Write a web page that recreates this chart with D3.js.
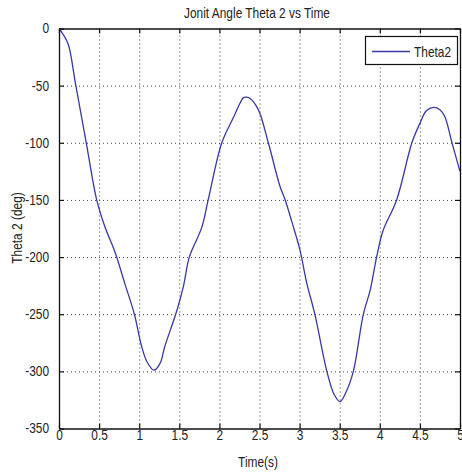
<!DOCTYPE html>
<html>
<head>
<meta charset="utf-8">
<script src="https://cdn.jsdelivr.net/npm/d3@7"></script>
<style>
  html, body { margin: 0; padding: 0; background: #fff; }
  svg { display: block; }
  text { font-family: "Liberation Sans", Arial, sans-serif; fill: #222; }
</style>
</head>
<body>
<div id="chart"></div>
<script>
// ---- data ----
const timeS = [0, 0.05, 0.116, 0.21, 0.34, 0.47, 0.57, 0.70, 0.82, 0.94, 1.03, 1.10, 1.185, 1.26, 1.32, 1.455, 1.55, 1.625, 1.78, 1.86, 2.03, 2.17, 2.26, 2.30, 2.34, 2.38, 2.485, 2.61, 2.755, 2.82, 2.92, 3.005, 3.09, 3.19, 3.34, 3.43, 3.504, 3.58, 3.67, 3.795, 3.88, 3.96, 4.04, 4.21, 4.40, 4.50, 4.58, 4.67, 4.75, 4.81, 4.90, 5.0];
const theta2 = [0, -5, -14, -50, -100, -150, -173, -196, -223, -250, -278, -292, -299, -293, -278, -250, -226, -200, -174, -150, -100, -78.6, -65, -60.5, -60, -61, -71, -100, -138, -150, -173, -194, -223, -250, -300, -320, -326.5, -318, -300, -250, -229, -200, -177, -150, -100, -83, -72, -69, -71, -77, -100, -125];
const xTicks = [0, 0.5, 1, 1.5, 2, 2.5, 3, 3.5, 4, 4.5, 5];
const xTickLabels = ["0", "0.5", "1", "1.5", "2", "2.5", "3", "3.5", "4", "4.5", "5"];
const yTicks = [0, -50, -100, -150, -200, -250, -300, -350];
const yTickLabels = ["0", "-50", "-100", "-150", "-200", "-250", "-300", "-350"];
const titleText = "Jonit Angle Theta 2 vs Time";
const xLabel = "Time(s)";
const yLabel = "Theta 2 (deg)";
const seriesName = "Theta2";

// ---- layout ----
const W = 462, H = 473;
const L = 59, R = 460, T = 28.5, B = 428.5;
const SX = 0.85; // horizontal squeeze of the reference text
const lineColor = "#3838a8";

const svg = d3.select("#chart").append("svg").attr("width", W).attr("height", H);

const x = d3.scaleLinear().domain([0, 5]).range([L, R]);
const y = d3.scaleLinear().domain([-350, 0]).range([B, T]);

// grid
const grid = svg.append("g");
grid.append("g").attr("transform", `translate(0,${B})`)
  .call(d3.axisBottom(x).tickValues(xTicks.slice(1, -1)).tickSize(-(B - T)).tickFormat(""))
  .call(g => g.select(".domain").remove())
  .call(g => g.selectAll("line").attr("stroke", "#444").attr("stroke-dasharray", "1,3").attr("stroke-width", 1));
grid.append("g").attr("transform", `translate(${L},0)`)
  .call(d3.axisLeft(y).tickValues(yTicks.slice(1, -1)).tickSize(-(R - L)).tickFormat(""))
  .call(g => g.select(".domain").remove())
  .call(g => g.selectAll("line").attr("stroke", "#444").attr("stroke-dasharray", "1,3").attr("stroke-width", 1));

// line
const pts = timeS.map((t, i) => [t, theta2[i]]);
svg.append("path")
  .datum(pts)
  .attr("fill", "none")
  .attr("stroke", lineColor)
  .attr("stroke-width", 1.3)
  .attr("d", d3.line().x(d => x(d[0])).y(d => y(d[1])).curve(d3.curveCatmullRom.alpha(0.5)));

// axes (MATLAB-like inward ticks on all sides)
function squeezeText(g) {
  g.selectAll("text").each(function () {
    const t = d3.select(this);
    const xv = +t.attr("x") || 0;
    t.attr("x", xv / SX).attr("transform", `scale(${SX},1)`);
  });
}
const fmtX = (d) => xTickLabels[xTicks.indexOf(d)];
const fmtY = (d) => yTickLabels[yTicks.indexOf(d)];

const axB = svg.append("g").attr("transform", `translate(0,${B})`)
  .call(d3.axisBottom(x).tickValues(xTicks).tickSizeInner(-5).tickSizeOuter(0).tickPadding(8).tickFormat(fmtX));
const axL = svg.append("g").attr("transform", `translate(${L},0)`)
  .call(d3.axisLeft(y).tickValues(yTicks).tickSizeInner(-5).tickSizeOuter(0).tickPadding(10).tickFormat(fmtY));
const axT = svg.append("g").attr("transform", `translate(0,${T})`)
  .call(d3.axisTop(x).tickValues(xTicks).tickSizeInner(-5).tickSizeOuter(0).tickFormat(""));
const axR = svg.append("g").attr("transform", `translate(${R},0)`)
  .call(d3.axisRight(y).tickValues(yTicks).tickSizeInner(-5).tickSizeOuter(0).tickFormat(""));
[axB, axL, axT, axR].forEach(a => {
  a.select(".domain").attr("stroke", "#111").attr("stroke-width", 1.3);
  a.selectAll("line").attr("stroke", "#111").attr("stroke-width", 1.2);
  a.selectAll("text").attr("font-size", 14).attr("fill", "#222")
    .attr("font-family", "'Liberation Sans', Arial, sans-serif");
});
axB.selectAll("text").attr("dy", "0.71em").attr("y", 2);
squeezeText(axB);
squeezeText(axL);

// title & labels
function label(txt, px, py, rot, size) {
  svg.append("g").attr("transform", `translate(${px},${py}) rotate(${rot}) scale(${SX},1)`)
    .append("text").attr("text-anchor", "middle").attr("font-size", size).text(txt);
}
label(titleText, 257, 18, 0, 14);
label(xLabel, 258, 467, 0, 14);
label(yLabel, 22, 228, -90, 14);

// legend
const lg = svg.append("g");
lg.append("rect").attr("x", 365.5).attr("y", 36.5).attr("width", 92).attr("height", 28)
  .attr("fill", "#fff").attr("stroke", "#111").attr("stroke-width", 1.2);
lg.append("line").attr("x1", 372).attr("x2", 410).attr("y1", 51.5).attr("y2", 51.5)
  .attr("stroke", lineColor).attr("stroke-width", 1.3);
lg.append("g").attr("transform", `translate(414,56.5) scale(${SX},1)`)
  .append("text").attr("font-size", 14).text(seriesName);
</script>
</body>
</html>
